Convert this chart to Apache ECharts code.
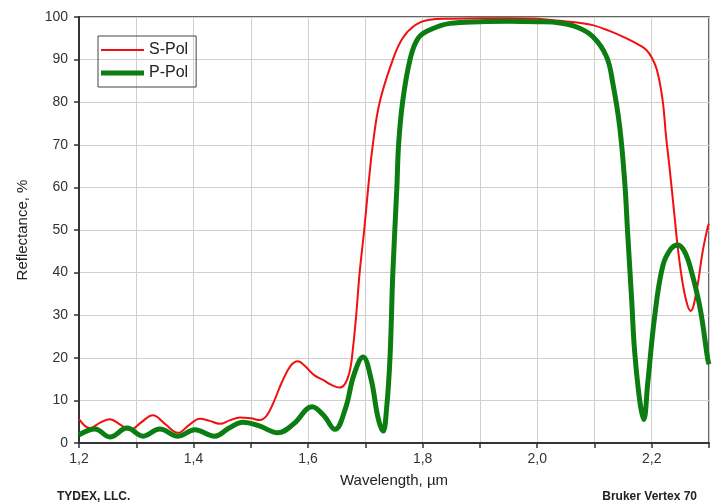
<!DOCTYPE html>
<html>
<head>
<meta charset="utf-8">
<title>Reflectance</title>
<script src="https://cdn.jsdelivr.net/npm/echarts@6/dist/echarts.min.js"></script>
<style>
  html, body { margin: 0; padding: 0; background: #fff; }
  #chart { width: 718px; height: 504px; }
</style>
</head>
<body>
<div id="chart"></div>
<script>
// S-Pol
const sWave = [1.200, 1.219, 1.237, 1.254, 1.272, 1.289, 1.308, 1.329, 1.350, 1.373, 1.392, 1.411, 1.428, 1.446, 1.463, 1.481, 1.500, 1.516, 1.528, 1.539, 1.555, 1.570, 1.582, 1.595, 1.610, 1.626, 1.640, 1.655, 1.665, 1.673, 1.678, 1.684, 1.690, 1.698, 1.705, 1.713, 1.725, 1.748, 1.765, 1.786, 1.810, 1.850, 1.900, 1.950, 2.000, 2.039, 2.070, 2.097, 2.125, 2.156, 2.180, 2.191, 2.200, 2.209, 2.219, 2.225, 2.231, 2.240, 2.246, 2.254, 2.262, 2.268, 2.278, 2.289, 2.298, 2.300]
const sRefl = [5.6, 3.5, 4.8, 5.6, 4.3, 3.0, 4.8, 6.5, 4.5, 2.4, 4.2, 5.7, 5.2, 4.5, 5.3, 6.0, 5.8, 5.4, 6.5, 9.3, 14.5, 18.2, 19.2, 18.0, 16.0, 14.8, 13.7, 13.0, 14.0, 17.0, 21.8, 30, 40, 50, 60, 70, 80, 90, 95, 98, 99.3, 99.6, 99.7, 99.7, 99.6, 99.1, 98.7, 98.1, 96.8, 95.0, 93.3, 92.2, 90.5, 87.6, 80.5, 72, 64.8, 53, 45.3, 37.5, 32.5, 31.0, 35.5, 45, 50.8, 51.5]

// P-Pol
const pWave = [1.200, 1.228, 1.254, 1.284, 1.312, 1.341, 1.373, 1.402, 1.437, 1.462, 1.486, 1.515, 1.547, 1.575, 1.607, 1.627, 1.647, 1.665, 1.680, 1.696, 1.710, 1.722, 1.731, 1.737, 1.743, 1.748, 1.755, 1.758, 1.765, 1.778, 1.792, 1.813, 1.848, 1.900, 1.950, 2.000, 2.040, 2.070, 2.097, 2.121, 2.132, 2.144, 2.153, 2.158, 2.165, 2.170, 2.179, 2.186, 2.193, 2.205, 2.219, 2.233, 2.246, 2.257, 2.267, 2.284, 2.298, 2.300]
const pRefl = [1.9, 3.3, 1.4, 3.5, 1.6, 3.3, 1.6, 3.1, 1.6, 3.5, 4.9, 4.0, 2.4, 4.5, 8.5, 6.5, 3.2, 8, 16, 20.2, 15, 6, 2.8, 8, 20, 40, 60, 70, 80, 90, 95, 97, 98.5, 98.9, 99.0, 98.9, 98.6, 97.6, 95.4, 90.7, 84.5, 74.3, 61, 49.2, 33.6, 21.8, 10, 5.5, 14, 29.6, 41.4, 45.5, 46.5, 45, 41.4, 32, 19.5, 18.5]

const seriesNames = ['S-Pol', 'P-Pol']

const font = 'Liberation Sans, Arial, sans-serif'
const zip = (xs, ys) => xs.map((x, i) => [x, ys[i]])

const chart = echarts.init(document.getElementById('chart'))

const option = {
  animation: false,
  backgroundColor: '#fff',
  grid: {
    left: 79,
    right: 9,
    top: 17,
    bottom: 61,
    show: true,
    borderColor: '#333',
    borderWidth: 1.5
  },
  legend: {
    data: [
      { name: seriesNames[0], icon: 'path://M0,0h43v2h-43z' },
      { name: seriesNames[1], icon: 'path://M0,0h43v5h-43z' }
    ],
    orient: 'vertical',
    left: 98,
    top: 36,
    padding: [6, 8, 6, 3],
    itemWidth: 43,
    itemHeight: 14,
    itemGap: 7,
    borderColor: '#444',
    borderWidth: 1,
    textStyle: { fontFamily: font, fontSize: 16, color: '#222' }
  },
  xAxis: {
    type: 'value',
    min: 1.2,
    max: 2.3,
    interval: 0.1,
    name: 'Wavelength, µm',
    nameLocation: 'middle',
    nameGap: 30,
    nameTextStyle: { fontFamily: font, fontSize: 15, color: '#222' },
    axisLine: { show: true, lineStyle: { color: '#333', width: 2 } },
    axisTick: { show: true, inside: false, length: 5, lineStyle: { color: '#333', width: 1.5 } },
    axisLabel: {
      fontFamily: font,
      fontSize: 14,
      color: '#333',
      margin: 9,
      showMaxLabel: true,
      formatter: function (v) {
        const k = Math.round(v * 10)
        if (k % 2 !== 0) return ''
        return (k / 10).toFixed(1).replace('.', ',')
      }
    },
    splitLine: { show: true, lineStyle: { color: '#cfcfcf', width: 1 } }
  },
  yAxis: {
    type: 'value',
    min: 0,
    max: 100,
    interval: 10,
    name: 'Reflectance, %',
    nameLocation: 'middle',
    nameGap: 49,
    nameTextStyle: { fontFamily: font, fontSize: 15, color: '#222' },
    axisLine: { show: true, lineStyle: { color: '#333', width: 2 } },
    axisTick: { show: true, inside: false, length: 5, lineStyle: { color: '#333', width: 1.5 } },
    axisLabel: { fontFamily: font, fontSize: 14, color: '#333', margin: 11 },
    splitLine: { show: true, lineStyle: { color: '#cfcfcf', width: 1 } }
  },
  graphic: [
    {
      type: 'text',
      left: 57,
      top: 491,
      style: { text: 'TYDEX, LLC.', fontFamily: font, fontSize: 12, fontWeight: 'bold', fill: '#222' }
    },
    {
      type: 'text',
      right: 21,
      top: 491,
      style: { text: 'Bruker Vertex 70', fontFamily: font, fontSize: 12, fontWeight: 'bold', fill: '#222' }
    }
  ],
  series: [
    {
      name: seriesNames[0],
      type: 'line',
      data: zip(sWave, sRefl),
      showSymbol: false,
      symbol: 'none',
      smooth: 0.4,
      clip: true,
      lineStyle: { color: '#f01010', width: 2 },
      itemStyle: { color: '#f01010' }
    },
    {
      name: seriesNames[1],
      type: 'line',
      data: zip(pWave, pRefl),
      showSymbol: false,
      symbol: 'none',
      smooth: 0.4,
      clip: true,
      lineStyle: { color: '#0b7d12', width: 5 },
      itemStyle: { color: '#0b7d12' }
    }
  ]
}

chart.setOption(option)
</script>
</body>
</html>
